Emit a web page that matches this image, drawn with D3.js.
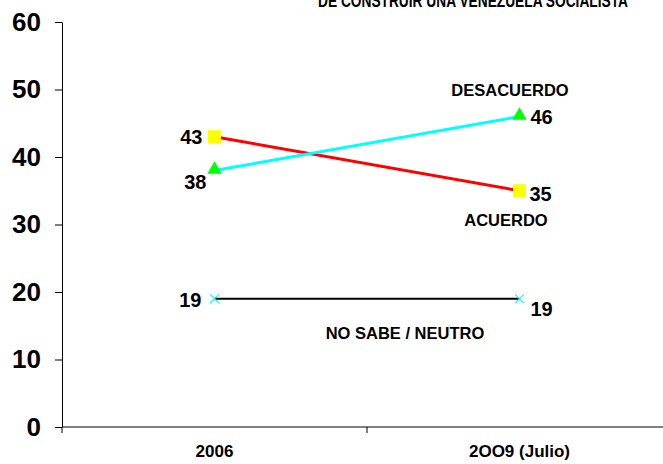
<!DOCTYPE html>
<html>
<head>
<meta charset="utf-8">
<script src="https://cdn.jsdelivr.net/npm/d3@7"></script>
<style>
  body { margin: 0; background: #fff; }
  text { font-family: "Liberation Sans", Arial, sans-serif; font-weight: bold; fill: #000; }
</style>
</head>
<body>
<svg id="chart" width="663" height="464"></svg>
<script>
// chart data
const categories = ["2006", "2OO9 (Julio)"];
const acuerdo = [43, 35];
const desacuerdo = [38, 46];
const noSabe = [19, 19];
const yTicks = [0, 10, 20, 30, 40, 50, 60];
const title = "DE CONSTRUIR UNA VENEZUELA SOCIALISTA";

const svg = d3.select("#chart");
const width = 663, height = 464;
const margin = { left: 62, right: -9, top: 22, bottom: 37 };

// x uses bands, one per category
const x = d3.scaleBand()
  .domain(categories)
  .range([margin.left, width - margin.right]);

const y = d3.scaleLinear()
  .domain([0, 60])
  .range([height - margin.bottom, margin.top]);

const cx = d => x(d) + x.bandwidth() / 2;

// title (cut at top as in the original)
svg.append("text")
  .attr("x", 318).attr("y", 7)
  .attr("textLength", 310)
  .attr("lengthAdjust", "spacingAndGlyphs")
  .style("font-size", "19px")
  .text(title);

// y axis
const yAxis = svg.append("g")
  .attr("transform", `translate(${margin.left},0)`)
  .call(d3.axisLeft(y).tickValues(yTicks).tickSize(7).tickPadding(14).tickSizeOuter(0));
yAxis.selectAll("text").style("font-size", "26px");
yAxis.selectAll("line, path").attr("stroke", "#000");

// x axis, ticks at band boundaries
const xAxis = svg.append("g")
  .attr("transform", `translate(0,${y(0)})`);
xAxis.append("line")
  .attr("x1", margin.left).attr("x2", width)
  .attr("stroke", "#000");
xAxis.selectAll(".tk")
  .data(categories)
  .enter().append("line")
  .attr("x1", d => x(d)).attr("x2", d => x(d))
  .attr("y1", 0).attr("y2", 6)
  .attr("stroke", "#000");
xAxis.selectAll(".lbl")
  .data(categories)
  .enter().append("text")
  .attr("x", cx).attr("y", 30)
  .attr("text-anchor", "middle")
  .style("font-size", "17px")
  .text(d => d);

const line = d3.line()
  .x((d, i) => cx(categories[i]))
  .y(d => y(d));

// lines
svg.append("path").datum(noSabe)
  .attr("d", line).attr("fill", "none")
  .attr("stroke", "#000").attr("stroke-width", 2);
svg.append("path").datum(acuerdo)
  .attr("d", line).attr("fill", "none")
  .attr("stroke", "#ff0000").attr("stroke-width", 3);
svg.append("path").datum(desacuerdo)
  .attr("d", line).attr("fill", "none")
  .attr("stroke", "#00ffff").attr("stroke-width", 3);

// markers
svg.selectAll(".sq")
  .data(acuerdo)
  .enter().append("rect")
  .attr("x", (d, i) => cx(categories[i]) - 6.5)
  .attr("y", d => y(d) - 6.5)
  .attr("width", 13).attr("height", 13)
  .attr("fill", "#ffff00");

svg.selectAll(".tri")
  .data(desacuerdo)
  .enter().append("path")
  .attr("d", d3.symbol().type(d3.symbolTriangle).size(90))
  .attr("transform", (d, i) => `translate(${cx(categories[i])},${y(d) - 1})`)
  .attr("fill", "#00ff00");

svg.selectAll(".xm")
  .data(noSabe)
  .enter().append("path")
  .attr("d", d3.symbol().type(d3.symbolX).size(50))
  .attr("transform", (d, i) => `translate(${cx(categories[i])},${y(d)})`)
  .attr("fill", "none")
  .attr("stroke", "#00ffff").attr("stroke-width", 1.2);

// value labels
function valueLabel(v, i, dx, dy, anchor) {
  svg.append("text")
    .attr("x", cx(categories[i]) + dx)
    .attr("y", y(v) + dy)
    .attr("text-anchor", anchor)
    .style("font-size", "20px")
    .text(v);
}
valueLabel(acuerdo[0], 0, -12, 7, "end");
valueLabel(acuerdo[1], 1, 10, 10, "start");
valueLabel(desacuerdo[0], 0, -8, 18, "end");
valueLabel(desacuerdo[1], 1, 11, 7, "start");
valueLabel(noSabe[0], 0, -13, 8, "end");
valueLabel(noSabe[1], 1, 11, 17, "start");

// series labels
const seriesLabels = [
  { text: "DESACUERDO", x: 510, v: 50, dy: 6 },
  { text: "ACUERDO", x: 506, v: 31, dy: 8 },
  { text: "NO SABE / NEUTRO", x: 405, v: 14, dy: 6 }
];
svg.selectAll(".sl")
  .data(seriesLabels)
  .enter().append("text")
  .attr("x", d => d.x)
  .attr("y", d => y(d.v) + d.dy)
  .attr("text-anchor", "middle")
  .style("font-size", "16.5px")
  .text(d => d.text);
</script>
</body>
</html>
